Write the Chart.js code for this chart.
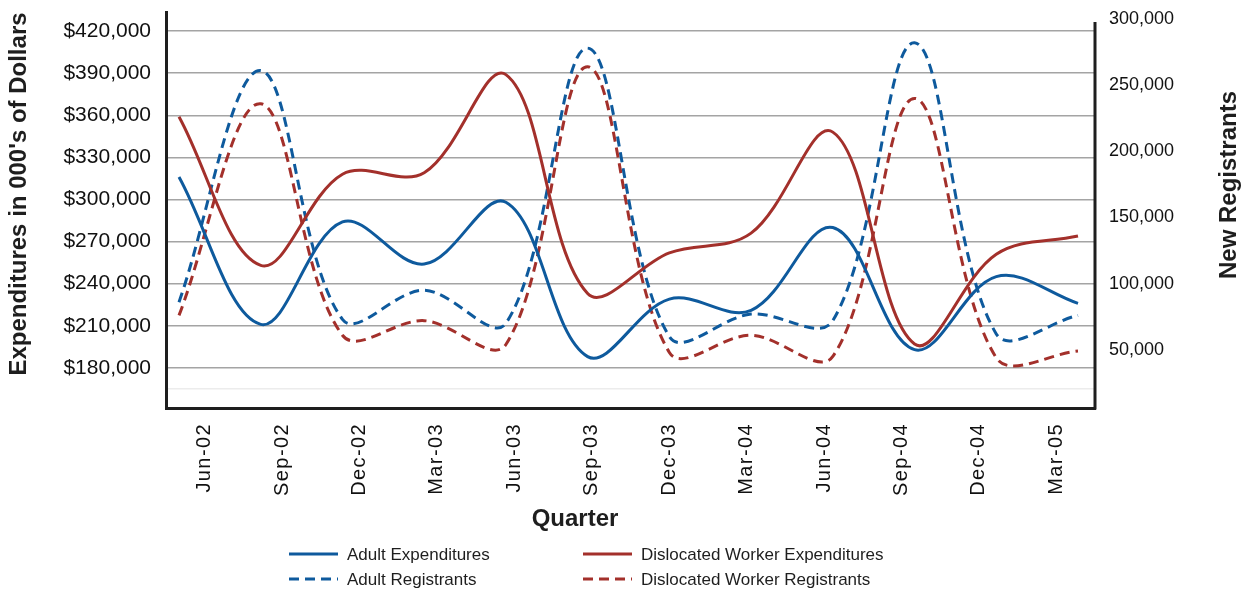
<!DOCTYPE html>
<html>
<head>
<meta charset="utf-8">
<script src="https://cdn.jsdelivr.net/npm/chart.js@4.4.1/dist/chart.umd.min.js"></script>
<style>
  html, body { margin: 0; padding: 0; background: #fff; }
  #wrap { position: relative; width: 1241px; height: 589px; }
</style>
</head>
<body>
<div id="wrap"><canvas id="chart"></canvas></div>
<script>
const quarters = ['Jun-02', 'Sep-02', 'Dec-02', 'Mar-03', 'Jun-03', 'Sep-03',
                  'Dec-03', 'Mar-04', 'Jun-04', 'Sep-04', 'Dec-04', 'Mar-05'];

// expenditures, left axis (000's of dollars)
const adultExp = [316000, 211000, 284000, 254000, 298000, 188000, 229000, 221000, 280000, 193000, 245000, 226000];
const dwExp    = [359000, 253000, 318000, 319000, 389000, 233000, 262000, 276000, 348000, 197000, 261000, 274000];

// registrants, right axis
const adultReg = [86000, 261000, 73000, 95000, 70000, 278000, 60000, 77000, 72000, 282000, 62000, 76000];
const dwReg    = [76000, 236000, 61000, 72000, 54000, 264000, 48000, 61000, 45000, 240000, 44000, 49000];

const leftTicks  = [180000, 210000, 240000, 270000, 300000, 330000, 360000, 390000, 420000];
const rightTicks = [50000, 100000, 150000, 200000, 250000, 300000];
const faintGrid  = 165000;

const leftTitle  = "Expenditures in 000's of Dollars";
const rightTitle = 'New Registrants';
const xTitle     = 'Quarter';

const BLUE = '#0e5a9d';
const RED  = '#a3302b';
const INK  = '#1e1e1e';
const DASH = [10, 6];
const FONT = '"Liberation Sans", Arial, sans-serif';

function points(values) {
    return values.map((v, i) => ({ x: i, y: v }));
}

const fmt = v => v.toLocaleString('en-US');

// force box sizes so the plot area lands where the original has it
function fixBox(size) {
    return s => {
        if (s.isHorizontal()) s.height = size; else s.width = size;
        s.paddingTop = 0;
        s.paddingBottom = 0;
        s.paddingLeft = 0;
        s.paddingRight = 0;
    };
}

const extras = {
    id: 'extras',
    afterLayout(chart) {
        // the quarter labels are a bit letter-spaced in the original
        const xs = chart.scales.x;
        if (!xs._spaced) {
            const orig = xs.drawLabels;
            xs.drawLabels = function (area) {
                this.ctx.letterSpacing = '1.4px';
                orig.call(this, area);
                this.ctx.letterSpacing = '0px';
            };
            xs._spaced = true;
        }
    },
    afterDraw(chart) {
        const ctx = chart.ctx;
        const area = chart.chartArea;
        ctx.save();

        // right axis line starts a little lower than the left one
        ctx.beginPath();
        ctx.lineWidth = 3;
        ctx.strokeStyle = INK;
        ctx.moveTo(area.right, 22);
        ctx.lineTo(area.right, area.bottom + 1.5);
        ctx.stroke();

        ctx.fillStyle = INK;
        ctx.textAlign = 'center';
        ctx.textBaseline = 'middle';
        ctx.font = 'bold 24px ' + FONT;
        ctx.fillText(xTitle, 575, 519);

        ctx.save();
        ctx.translate(19, 194);
        ctx.rotate(-Math.PI / 2);
        ctx.fillText(leftTitle, 0, 0);
        ctx.restore();

        ctx.save();
        ctx.translate(1229, 185);
        ctx.rotate(-Math.PI / 2);
        ctx.fillText(rightTitle, 0, 0);
        ctx.restore();

        // legend, two columns
        const slots = [[289, 555], [583, 555], [289, 580], [583, 580]];
        ctx.font = '17px ' + FONT;
        ctx.textAlign = 'left';
        chart.data.datasets.forEach((ds, i) => {
            const [x, y] = slots[i];
            ctx.beginPath();
            ctx.setLineDash(ds.borderDash || []);
            ctx.lineWidth = 3;
            ctx.strokeStyle = ds.borderColor;
            ctx.moveTo(x, y - 1);
            ctx.lineTo(x + 49, y - 1);
            ctx.stroke();
            ctx.setLineDash([]);
            ctx.fillStyle = INK;
            ctx.fillText(ds.label, x + 58, y);
        });
        ctx.restore();
    }
};

new Chart(document.getElementById('chart'), {
    type: 'line',
    data: {
        labels: quarters,
        datasets: [
            { label: 'Adult Expenditures', data: points(adultExp), borderColor: BLUE, yAxisID: 'y' },
            { label: 'Dislocated Worker Expenditures', data: points(dwExp), borderColor: RED, yAxisID: 'y' },
            { label: 'Adult Registrants', data: points(adultReg), borderColor: BLUE, borderDash: DASH, yAxisID: 'y2' },
            { label: 'Dislocated Worker Registrants', data: points(dwReg), borderColor: RED, borderDash: DASH, yAxisID: 'y2' }
        ].map(ds => Object.assign(ds, {
            xAxisID: 'xd',
            borderWidth: 3,
            pointRadius: 0,
            fill: false,
            tension: 0.36
        }))
    },
    options: {
        responsive: true,
        maintainAspectRatio: false,
        animation: false,
        layout: { padding: { top: 12, left: 0, right: 0, bottom: 0 } },
        plugins: {
            legend: { display: false },
            tooltip: { enabled: false }
        },
        scales: {
            x: {
                type: 'category',
                position: 'bottom',
                offset: true,
                grid: { display: false, drawTicks: false, tickLength: 0 },
                border: { display: true, color: INK, width: 3 },
                ticks: {
                    autoSkip: false,
                    minRotation: 90,
                    maxRotation: 90,
                    padding: 15,
                    color: '#111',
                    font: { family: FONT, size: 20 }
                },
                afterFit: fixBox(181)
            },
            // hidden numeric axis the lines are plotted on
            xd: {
                type: 'linear',
                position: 'bottom',
                display: false,
                min: -0.159,
                max: 11.208
            },
            y: {
                type: 'linear',
                position: 'left',
                min: 151400,
                max: 433600,
                afterBuildTicks: s => {
                    s.ticks = [faintGrid].concat(leftTicks).map(v => ({ value: v }));
                },
                grid: {
                    drawTicks: false,
                    tickLength: 0,
                    lineWidth: 1.5,
                    color: c => (c.tick && c.tick.value === faintGrid) ? '#ececec' : '#a4a4a4'
                },
                border: { display: true, color: INK, width: 3 },
                ticks: {
                    padding: 15,
                    color: '#111',
                    font: { family: FONT, size: 21 },
                    callback: v => v === faintGrid ? '' : '$' + fmt(v)
                },
                afterFit: fixBox(166)
            },
            y2: {
                type: 'linear',
                position: 'right',
                min: 6000,
                max: 305300,
                afterBuildTicks: s => {
                    s.ticks = rightTicks.map(v => ({ value: v }));
                },
                grid: { display: false, drawTicks: false, tickLength: 0 },
                border: { display: false },
                ticks: {
                    padding: 14,
                    color: '#111',
                    font: { family: FONT, size: 18 },
                    callback: v => fmt(v)
                },
                afterFit: fixBox(146)
            }
        }
    },
    plugins: [extras]
});
</script>
</body>
</html>
